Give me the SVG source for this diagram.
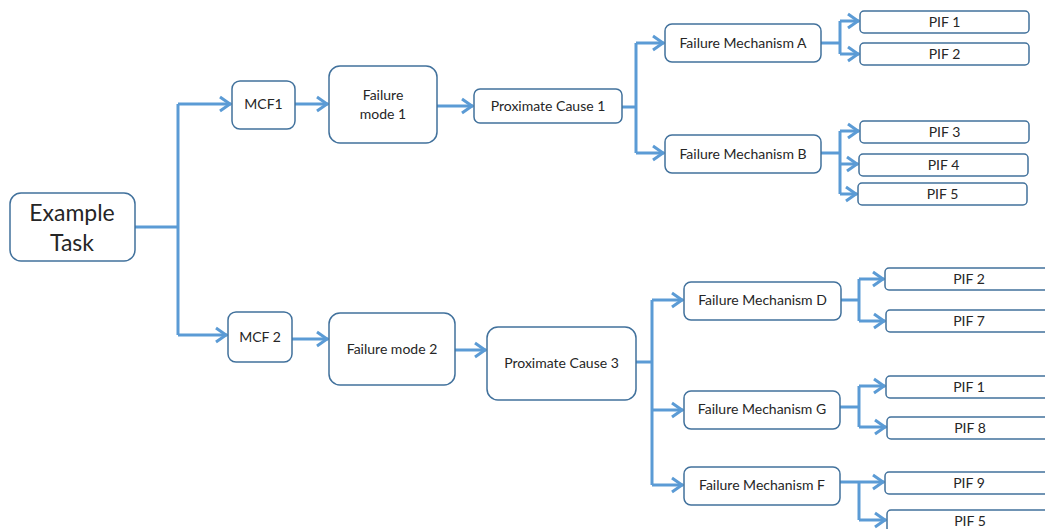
<svg xmlns="http://www.w3.org/2000/svg" width="1045" height="529" viewBox="0 0 1045 529">
  <style>
    .box { fill: #ffffff; stroke: #41719c; stroke-width: 1.5; }
    .lbl { font-family: Lato, "Open Sans", "Liberation Sans", sans-serif; font-size: 14px; fill: #262626; text-anchor: middle; }
    .big { font-size: 23px; }
    .wire { fill: none; stroke: #5b9bd5; stroke-width: 3; stroke-linejoin: miter; }
    .arr { marker-end: url(#chev); }
  </style>
  <defs>
    <marker id="chev" markerUnits="userSpaceOnUse" markerWidth="15" markerHeight="20" viewBox="-13 -9 15 18" refX="0" refY="0" orient="auto">
      <path d="M-11,-7 L-1,0 L-11,7" fill="none" stroke="#5b9bd5" stroke-width="3"/>
    </marker>
  </defs>

  <!-- connectors -->
  <g id="connectors">
    <path class="wire" d="M135,227 H178"/>
    <path class="wire" d="M178,104 V335"/>
    <path class="wire arr" d="M178,104 H231"/>
    <path class="wire arr" d="M178,335 H227"/>
    <path class="wire arr" d="M295,104 H328"/>
    <path class="wire arr" d="M292,339 H328"/>
    <path class="wire arr" d="M437,106 H473"/>
    <path class="wire arr" d="M455,350 H486"/>

    <path class="wire" d="M622,107 H636"/>
    <path class="wire" d="M636,43 V153"/>
    <path class="wire arr" d="M636,43 H664"/>
    <path class="wire arr" d="M636,153 H664"/>

    <path class="wire" d="M821,43 H840"/>
    <path class="wire" d="M840,21 V54"/>
    <path class="wire arr" d="M840,21 H859"/>
    <path class="wire arr" d="M840,54 H859"/>

    <path class="wire" d="M821,153 H840"/>
    <path class="wire" d="M840,131 V194"/>
    <path class="wire arr" d="M840,131 H859"/>
    <path class="wire arr" d="M840,164 H858"/>
    <path class="wire arr" d="M840,194 H857"/>

    <path class="wire" d="M636,362 H652"/>
    <path class="wire" d="M652,300 V485"/>
    <path class="wire arr" d="M652,300 H683"/>
    <path class="wire arr" d="M652,410 H683"/>
    <path class="wire arr" d="M652,485 H683"/>

    <path class="wire" d="M841,300 H859"/>
    <path class="wire" d="M859,279 V321"/>
    <path class="wire arr" d="M859,279 H884"/>
    <path class="wire arr" d="M859,321 H885"/>

    <path class="wire" d="M840,407 H859"/>
    <path class="wire" d="M859,386 V427"/>
    <path class="wire arr" d="M859,386 H885"/>
    <path class="wire arr" d="M859,427 H886"/>

    <path class="wire" d="M840,482 H859"/>
    <path class="wire" d="M859,482 V520"/>
    <path class="wire arr" d="M859,482 H884"/>
    <path class="wire arr" d="M859,520 H886"/>
  </g>

  <g id="task">
    <rect class="box" x="10" y="193" width="125" height="68" rx="11"/>
    <text class="lbl big" x="72" y="221">Example</text>
    <text class="lbl big" x="72" y="251">Task</text>
  </g>

  <g id="mcf1">
    <rect class="box" x="232" y="81" width="63" height="48" rx="8"/>
    <text class="lbl" x="263.5" y="109">MCF1</text>
  </g>
  <g id="mcf2">
    <rect class="box" x="228" y="312" width="64" height="50" rx="8"/>
    <text class="lbl" x="260" y="342">MCF 2</text>
  </g>

  <g id="fmode1">
    <rect class="box" x="329" y="66" width="108" height="77" rx="11"/>
    <text class="lbl" x="383" y="100">Failure</text>
    <text class="lbl" x="383" y="119">mode 1</text>
  </g>
  <g id="fmode2">
    <rect class="box" x="329" y="313" width="126" height="72" rx="11"/>
    <text class="lbl" x="392" y="354">Failure mode 2</text>
  </g>

  <g id="pc1">
    <rect class="box" x="474" y="89" width="148" height="34" rx="6"/>
    <text class="lbl" x="548" y="111">Proximate Cause 1</text>
  </g>
  <g id="pc3">
    <rect class="box" x="487" y="327" width="149" height="73" rx="11"/>
    <text class="lbl" x="561.5" y="368">Proximate Cause 3</text>
  </g>

  <g id="fm-a">
    <rect class="box" x="665" y="24" width="156" height="38" rx="7"/>
    <text class="lbl" x="743" y="48">Failure Mechanism A</text>
  </g>
  <g id="fm-b">
    <rect class="box" x="665" y="135" width="156" height="38" rx="7"/>
    <text class="lbl" x="743" y="159">Failure Mechanism B</text>
  </g>
  <g id="fm-d">
    <rect class="box" x="684" y="282" width="157" height="38" rx="7"/>
    <text class="lbl" x="762.5" y="305">Failure Mechanism D</text>
  </g>
  <g id="fm-g">
    <rect class="box" x="684" y="391" width="156" height="38" rx="7"/>
    <text class="lbl" x="762" y="414">Failure Mechanism G</text>
  </g>
  <g id="fm-f">
    <rect class="box" x="684" y="467" width="156" height="38" rx="7"/>
    <text class="lbl" x="762" y="490">Failure Mechanism F</text>
  </g>

  <g id="pif-a1">
    <rect class="box" x="860" y="11" width="169" height="22" rx="4"/>
    <text class="lbl" x="944.5" y="27">PIF 1</text>
  </g>
  <g id="pif-a2">
    <rect class="box" x="860" y="43" width="169" height="22" rx="4"/>
    <text class="lbl" x="944.5" y="59">PIF 2</text>
  </g>
  <g id="pif-b3">
    <rect class="box" x="860" y="121" width="169" height="22" rx="4"/>
    <text class="lbl" x="944.5" y="137">PIF 3</text>
  </g>
  <g id="pif-b4">
    <rect class="box" x="859" y="154" width="169" height="22" rx="4"/>
    <text class="lbl" x="943.5" y="170">PIF 4</text>
  </g>
  <g id="pif-b5">
    <rect class="box" x="858" y="183" width="169" height="22" rx="4"/>
    <text class="lbl" x="942.5" y="199">PIF 5</text>
  </g>

  <g id="pif-d2">
    <rect class="box" x="885" y="268" width="170" height="22" rx="4"/>
    <text class="lbl" x="969" y="284">PIF 2</text>
  </g>
  <g id="pif-d7">
    <rect class="box" x="886" y="310" width="170" height="22" rx="4"/>
    <text class="lbl" x="969" y="326">PIF 7</text>
  </g>
  <g id="pif-g1">
    <rect class="box" x="886" y="376" width="170" height="22" rx="4"/>
    <text class="lbl" x="969" y="392">PIF 1</text>
  </g>
  <g id="pif-g8">
    <rect class="box" x="887" y="417" width="170" height="22" rx="4"/>
    <text class="lbl" x="970" y="433">PIF 8</text>
  </g>
  <g id="pif-f9">
    <rect class="box" x="885" y="472" width="170" height="22" rx="4"/>
    <text class="lbl" x="969" y="488">PIF 9</text>
  </g>
  <g id="pif-f5">
    <rect class="box" x="887" y="510" width="170" height="22" rx="4"/>
    <text class="lbl" x="970" y="526">PIF 5</text>
  </g>
</svg>
